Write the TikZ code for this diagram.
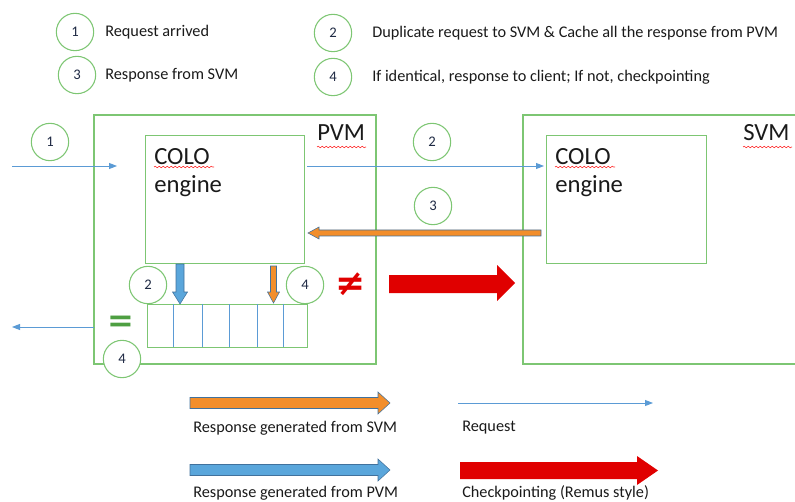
\documentclass[tikz,border=0pt]{standalone}
\usepackage{fontspec}
\setmainfont{Carlito}
\newfontfamily\symfam{DejaVu Sans}
\usetikzlibrary{arrows.meta,decorations.pathmorphing}

\definecolor{frame}{HTML}{7DC673}
\definecolor{eqgreen}{HTML}{4E9F42}
\definecolor{req}{HTML}{5B9BD5}
\definecolor{numink}{HTML}{1F2A44}
\definecolor{svmresp}{HTML}{F28E2B}
\definecolor{pvmresp}{HTML}{5AA6DB}
\definecolor{ckpt}{HTML}{E00000}
\definecolor{rim}{HTML}{41719C}
\definecolor{ink}{HTML}{1A1A1A}

\begin{document}
\begin{tikzpicture}[x=0.75pt,y=-0.75pt,
  num/.style={circle, draw=frame, fill=white, line width=0.8pt,
    minimum size=28pt, inner sep=0pt, text=numink,
    font=\fontsize{11}{12}\selectfont},
  legendtext/.style={anchor=west, inner sep=0pt, text=ink,
    font=\fontsize{12.2}{14}\selectfont},
  boxline/.style={draw=frame, line width=1.1pt},
  reqline/.style={draw=req, line width=0.7pt,
    -{Triangle[length=6pt,width=4.5pt]}},
  bigtext/.style={anchor=west, inner sep=0pt, text=ink,
    font=\fontsize{18.5}{21}\selectfont},
  squiggle/.style={draw=red!80, line width=0.45pt,
    decorate, decoration={snake, amplitude=0.6pt, segment length=3pt}},
  respfill/.style={line width=0.4pt, draw=rim}
]
\useasboundingbox (0,0) rectangle (795,502);

% ---- key to the numbered steps ----
\node[num] (k1) at (75,32) {1};
\node[legendtext] (k1t) at (105,32) {Request arrived};
\node[num] (k3) at (77,75) {3};
\node[legendtext] (k3t) at (105,75) {Response from SVM};
\node[num] (k2) at (333,33) {2};
\node[legendtext] (k2t) at (372,33) {Duplicate request to SVM \& Cache all the response from PVM};
\node[num] (k4) at (333,77) {4};
\node[legendtext] (k4t) at (372,77) {If identical, response to client; If not, checkpointing};

% ---- PVM ----
\draw[boxline] (94,115) rectangle (376,364);
\node[bigtext] (pvm) at (317,133) {PVM};
\draw[squiggle] (317,147) -- (366,147);
\node[boxline, rectangle, minimum width=119.25pt, minimum height=96pt,
      anchor=north west, inner sep=0pt] (pcolo) at (145,135) {};
\node[bigtext] (pcolo1) at (154,157) {COLO};
\node[bigtext] (pcolo2) at (154,186) {engine};
\draw[squiggle] (154,167) -- (214,167);

% output buffer
\node[boxline, rectangle, minimum width=120pt, minimum height=32.25pt,
      anchor=north west, inner sep=0pt] (buf) at (147,304) {};
\foreach \xx in {173,202,229,257,283}
  \draw[req, line width=0.6pt] (\xx,304) -- (\xx,347);

% ---- SVM ----
\draw[boxline] (795,115) -- (523,115) -- (523,364) -- (795,364);
\node[bigtext] (svm) at (743,133) {SVM};
\draw[squiggle] (743,147) -- (792,147);
\node[boxline, rectangle, minimum width=120pt, minimum height=96pt,
      anchor=north west, inner sep=0pt] (scolo) at (546,135) {};
\node[bigtext] (scolo1) at (555,157) {COLO};
\node[bigtext] (scolo2) at (555,186) {engine};
\draw[squiggle] (555,167) -- (615,167);

% ---- requests ----
\coordinate (cin) at (12,166);
\coordinate (cinend) at (117,166);
\draw[reqline] (cin) -- (cinend);
\node[num] (s1) at (50,142) {1};

\coordinate (dupstart) at (307,166);
\coordinate (dupend) at (544,166);
\draw[reqline] (dupstart) -- (dupend);
\node[num] (s2) at (432,142) {2};

\coordinate (outstart) at (94,327);
\coordinate (outend) at (12,327);
\draw[reqline] (outstart) -- (outend);

% ---- response from SVM back to PVM ----
\fill[svmresp, respfill] (541,230) -- (319,230) -- (319,227) -- (308,233)
  -- (319,239) -- (319,236) -- (541,236) -- cycle;
\node[num] (s3) at (433,206) {3};

% ---- responses into the buffer ----
\fill[pvmresp, respfill] (176,264) -- (184,264) -- (184,292) -- (187.5,292)
  -- (180,304) -- (172.5,292) -- (176,292) -- cycle;
\fill[svmresp, respfill] (270.5,266) -- (276.5,266) -- (276.5,292) -- (279.5,292)
  -- (273.5,303) -- (267.5,292) -- (270.5,292) -- cycle;
\node[num] (b2) at (148,285) {2};
\node[num] (b4) at (305,285) {4};
\node[num] (o4) at (122,359) {4};

% compare result
\node[text=eqgreen, inner sep=0pt, font=\symfam\bfseries\fontsize{24}{24}\selectfont]
  (eq) at (121,324) {=};
\node[text=ckpt, inner sep=0pt, font=\symfam\bfseries\fontsize{27}{27}\selectfont]
  (neq) at (351,284) {≠};

% checkpoint arrow
\fill[ckpt] (389,275) -- (497,275) -- (497,265) -- (515,283) -- (497,301)
  -- (497,293) -- (389,293) -- cycle;

% ---- key to the arrows ----
\fill[svmresp, respfill] (190,397.5) -- (378,397.5) -- (378,392) -- (390,403)
  -- (378,414) -- (378,408.5) -- (190,408.5) -- cycle;
\node[legendtext] (l1) at (193,428) {Response generated from SVM};

\fill[pvmresp, respfill] (190,464.5) -- (378,464.5) -- (378,459) -- (390,470)
  -- (378,481) -- (378,475.5) -- (190,475.5) -- cycle;
\node[legendtext] (l2) at (193,493) {Response generated from PVM};

\coordinate (lreqa) at (458,403);
\coordinate (lreqb) at (653,403);
\draw[reqline] (lreqa) -- (lreqb);
\node[legendtext] (l3) at (462,428) {Request};

\fill[ckpt] (460,462) -- (637,462) -- (637,456) -- (658,470.5) -- (637,485)
  -- (637,479) -- (460,479) -- cycle;
\node[legendtext] (l4) at (462,493) {Checkpointing (Remus style)};
\end{tikzpicture}
\end{document}
